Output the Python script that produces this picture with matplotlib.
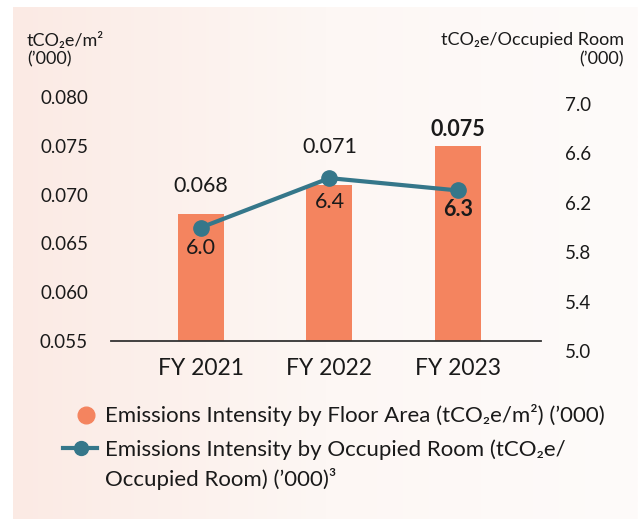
import numpy as np
import matplotlib
matplotlib.use('Agg')
import matplotlib.pyplot as plt
from matplotlib.lines import Line2D

plt.rcParams['font.family'] = ['Lato', 'DejaVu Sans']

# data
years = ['FY 2021', 'FY 2022', 'FY 2023']
floor_area = [0.068, 0.071, 0.075]       # tCO2e/m2 ('000), bars, left axis
occupied_room = [6.0, 6.4, 6.3]          # tCO2e/occupied room ('000), line, right axis
left_ticks = [0.055, 0.060, 0.065, 0.070, 0.075, 0.080]
right_ticks = [5.0, 5.4, 5.8, 6.2, 6.6, 7.0]

BAR = '#f4845f'
TEAL = '#35778a'
INK = '#1a1a1a'

W, H = 638, 519
fig = plt.figure(figsize=(W / 100, H / 100), dpi=100)


def rect(x0, y0, x1, y1):
    # pixel box (top-left origin) -> figure fraction
    return [x0 / W, 1 - y1 / H, (x1 - x0) / W, (y1 - y0) / H]


# pink gradient panel behind everything
bg = fig.add_axes(rect(13, 7, W, H), zorder=-10)
grad = np.linspace(0, 1, 256).reshape(1, -1)
cmap = matplotlib.colors.LinearSegmentedColormap.from_list('bg', ['#fbeae4', '#fdf7f4', '#fefbfa'])
bg.imshow(grad, aspect='auto', cmap=cmap, extent=[0, 1, 0, 1])
bg.axis('off')

x = np.arange(len(years))
xlim = (-0.70, 2.646)

# bars on the left scale
ax = fig.add_axes(rect(111, 90, 541, 341))
ax.set_facecolor('none')
ax.bar(x, floor_area, width=0.358, color=BAR, zorder=2)
ax.set_xlim(*xlim)
ax.set_ylim(0.055, 0.055 + 251 / 9760)
ax.set_yticks(left_ticks)
ax.set_yticklabels([f'{v:.3f}' for v in left_ticks])
ax.set_xticks(x)
ax.set_xticklabels(years)
ax.tick_params(axis='y', length=0, pad=16.5, labelsize=13.5, labelcolor=INK)
ax.tick_params(axis='x', length=0, pad=12, labelsize=16.5, labelcolor=INK)
for s in ['top', 'right', 'left']:
    ax.spines[s].set_visible(False)
ax.spines['bottom'].set_color('#333333')
ax.spines['bottom'].set_linewidth(1.3)
ax.spines['bottom'].set_zorder(3)

# line on the right scale (its own axes, offset like the original)
ax2 = fig.add_axes(rect(111, 90, 541, 351))
ax2.set_facecolor('none')
ax2.plot(x, occupied_room, color=TEAL, lw=3, marker='o', markersize=11, zorder=4)
ax2.set_xlim(*xlim)
ax2.set_ylim(5.0, 5.0 + 261 / 123.5)
ax2.yaxis.tick_right()
ax2.set_yticks(right_ticks)
ax2.set_yticklabels([f'{v:.1f}' for v in right_ticks])
ax2.tick_params(axis='y', length=0, pad=17, labelsize=13.5, labelcolor=INK)
ax2.set_xticks([])
for s in ax2.spines.values():
    s.set_visible(False)

# value labels
bar_offsets = [20, 27, 12]       # points above bar top
line_offsets = [-15, -17, -14]   # points below marker
weights = ['normal', 'normal', 'bold']
for i in range(len(years)):
    ax.annotate(f'{floor_area[i]:.3f}', (x[i], floor_area[i]), xytext=(0, bar_offsets[i]),
                textcoords='offset points', ha='center', va='center', fontsize=15.5,
                fontweight=weights[i], color=INK, zorder=5)
    ax2.annotate(f'{occupied_room[i]:.1f}', (x[i], occupied_room[i]), xytext=(0, line_offsets[i]),
                 textcoords='offset points', ha='center', va='center', fontsize=15.5,
                 fontweight=weights[i], color=INK, zorder=5)

# axis titles
fig.text(27 / W, 1 - 40 / H, 'tCO\u2082e/m\u00b2', ha='left', va='center', fontsize=13, color=INK)
fig.text(27 / W, 1 - 59 / H, '(\u2019000)', ha='left', va='center', fontsize=13, color=INK)
fig.text(624 / W, 1 - 40 / H, 'tCO\u2082e/Occupied Room', ha='right', va='center', fontsize=13, color=INK)
fig.text(624 / W, 1 - 59 / H, '(\u2019000)', ha='right', va='center', fontsize=13, color=INK)

# legend
fig.add_artist(Line2D([86 / W], [1 - 415 / H], marker='o', markersize=12, color=BAR, ls='none'))
fig.add_artist(Line2D([63 / W, 97 / W], [1 - 448 / H, 1 - 448 / H], color=TEAL, lw=3))
fig.add_artist(Line2D([80.5 / W], [1 - 448 / H], marker='o', markersize=10, color=TEAL, ls='none'))
fig.text(105 / W, 1 - 415 / H, 'Emissions Intensity by Floor Area (tCO\u2082e/m\u00b2) (\u2019000)',
         ha='left', va='center', fontsize=16, color=INK)
fig.text(105 / W, 1 - 450 / H, 'Emissions Intensity by Occupied Room (tCO\u2082e/',
         ha='left', va='center', fontsize=16, color=INK)
fig.text(105 / W, 1 - 479 / H, 'Occupied Room) (\u2019000)\u00b3',
         ha='left', va='center', fontsize=16, color=INK)

fig.savefig('out.png', dpi=100)
